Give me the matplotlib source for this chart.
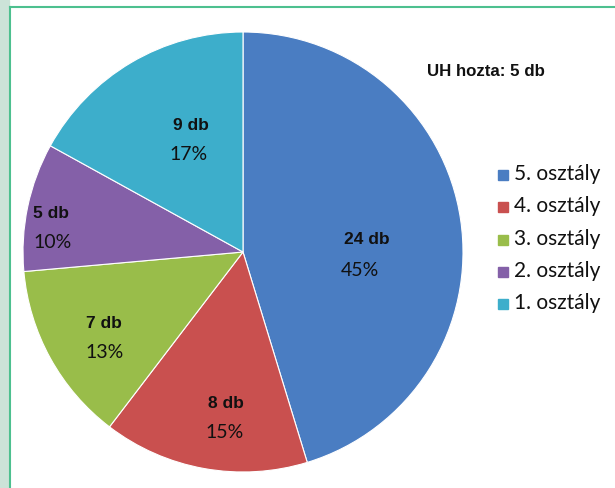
import matplotlib
matplotlib.use("Agg")
import matplotlib.pyplot as plt
from matplotlib.patches import Rectangle

# Data
classes = ["5. osztály", "4. osztály", "3. osztály", "2. osztály", "1. osztály"]
counts = [24, 8, 7, 5, 9]
pct_labels = [45, 15, 13, 10, 17]
colors = ["#4A7DC2", "#C9504F", "#99BD4A", "#8460A8", "#3DAECB"]
note = "UH hozta: 5 db"

W, H = 615, 488
fig = plt.figure(figsize=(W / 100, H / 100), dpi=100)
ax = fig.add_axes([0, 0, 1, 1])

# Frame: pale side strip and green rule
ax.add_patch(Rectangle((0, 0), 9, H, color="#CCE3D8", zorder=0))
ax.plot([10, 10], [0, H - 7], color="#4DC08F", lw=1.5, zorder=1)
ax.plot([10, W], [H - 7, H - 7], color="#4DC08F", lw=1.5, zorder=1)

cx, cy, r = 243, H - 252, 220
wedges, _ = ax.pie(counts, colors=colors, startangle=90, counterclock=False,
                   center=(cx, cy), radius=r, frame=True,
                   wedgeprops=dict(edgecolor="white", linewidth=0.8))
ax.set_xlim(0, W)
ax.set_ylim(0, H)
ax.set_aspect("equal")
ax.axis("off")

# Label anchor points (pixels from top-left): count line and percent line
count_pos = [(367, 239), (226, 403), (104, 323), (51, 213), (191, 125)]
pct_pos = [(360, 270), (225, 432), (105, 353), (53, 243), (189, 155)]
for (bx, by), (qx, qy), n, p in zip(count_pos, pct_pos, counts, pct_labels):
    ax.text(bx, H - by, f"{n} db", ha="center", va="center",
            fontsize=12.5, fontweight="bold", family="Liberation Sans", color="#111111")
    ax.text(qx, H - qy, f"{p}%", ha="center", va="center",
            fontsize=14, family="Lato", color="#111111")

ax.text(427, H - 71, note, ha="left", va="center", fontsize=12.2,
        fontweight="bold", family="Liberation Sans", color="#111111")

# Legend
leg_y = [174, 206, 239, 271, 303]
for y, c, name in zip(leg_y, colors, classes):
    ax.add_patch(Rectangle((498, H - y - 6), 10, 10, color=c))
    ax.text(514, H - y, name, ha="left", va="center", fontsize=15,
            family="Lato", color="#111111")

fig.savefig("out.png", dpi=100)
